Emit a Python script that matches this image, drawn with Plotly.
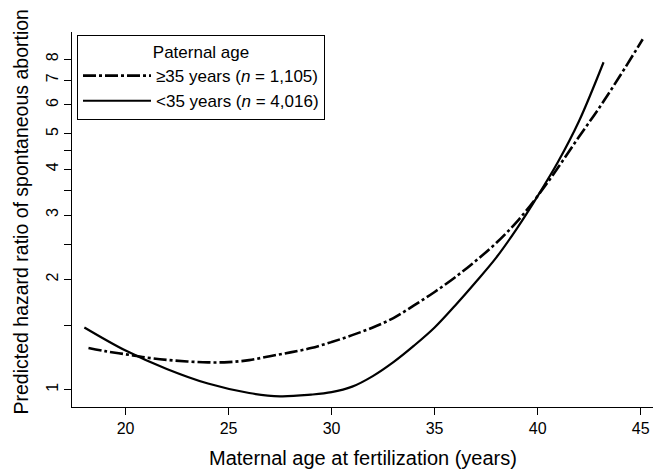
import plotly.graph_objects as go

# <35 years paternal age (solid)
age_young = [18, 20, 22, 24, 26, 27.5, 29, 30, 31, 32, 33, 34, 35, 36, 37, 38, 39, 40, 41, 42, 43.2]
hr_young = [1.48, 1.28, 1.14, 1.04, 0.98, 0.96, 0.97, 0.985, 1.02, 1.09, 1.19, 1.32, 1.48, 1.70,
            1.97, 2.30, 2.76, 3.38, 4.2, 5.4, 7.84]

# >=35 years paternal age (dash-dot)
age_old = [18.2, 19, 20, 21, 22, 23, 24, 25, 26, 27, 28, 29, 30, 31, 32, 33, 34, 35, 36, 37, 38,
           39, 40, 41, 42, 43, 44, 45.1]
hr_old = [1.30, 1.275, 1.25, 1.225, 1.207, 1.195, 1.188, 1.19, 1.205, 1.235, 1.265, 1.30, 1.35,
          1.41, 1.48, 1.57, 1.70, 1.85, 2.03, 2.25, 2.52, 2.88, 3.38, 4.05, 4.9, 5.9, 7.2, 9.06]

x_ticks = [20, 25, 30, 35, 40, 45]
y_tickvals = [1, 1.5, 2, 2.5, 3, 3.5, 4, 4.5, 5, 6, 7, 8]
y_ticktext = ["1", "", "2", "", "3", "", "4", "", "5", "6", "7", "8"]

x_title = "Maternal age at fertilization (years)"
y_title = "Predicted hazard ratio of spontaneous abortion"

FONT = "Liberation Sans, Arial, Helvetica, sans-serif"

fig = go.Figure()
fig.add_trace(go.Scatter(
    x=age_old, y=hr_old, mode="lines", line_shape="spline",
    name="≥35 years (<i>n</i> = 1,105)",
    line=dict(color="black", width=2.6, dash="13px,3px,3px,3px"),
))
fig.add_trace(go.Scatter(
    x=age_young, y=hr_young, mode="lines", line_shape="spline",
    name="<35 years (<i>n</i> = 4,016)",
    line=dict(color="black", width=2.2),
))

fig.update_layout(
    width=654, height=461,
    margin=dict(l=64, r=9, t=24, b=62, autoexpand=False),
    paper_bgcolor="white", plot_bgcolor="white",
    font=dict(family=FONT, color="black", size=15),
    showlegend=True,
    legend=dict(
        x=0.0086, y=0.992, xanchor="left", yanchor="top",
        bordercolor="black", borderwidth=1, bgcolor="white",
        font=dict(size=17, family=FONT),
        title=dict(text="Paternal age", side="top center", font=dict(size=17, family=FONT)),
        itemwidth=68, tracegroupgap=0,
    ),
    xaxis=dict(
        range=[17.4, 45.6], tickvals=x_ticks, ticks="outside", ticklen=7,
        tickcolor="black", showline=True, linecolor="black", linewidth=1,
        showgrid=False, zeroline=False, mirror=False, automargin=False,
        tickfont=dict(size=16),
    ),
    yaxis=dict(
        type="log", range=[-0.047, 0.977],
        tickvals=y_tickvals, ticktext=y_ticktext, tickangle=-90,
        ticks="outside", ticklen=7, tickcolor="black",
        showline=True, linecolor="black", linewidth=1,
        showgrid=False, zeroline=False, mirror=False, automargin=False,
        tickfont=dict(size=16),
    ),
    annotations=[
        dict(text=x_title, xref="paper", yref="paper", x=0.5, y=0,
             xanchor="center", yanchor="middle", yshift=-51, showarrow=False,
             font=dict(size=20, family=FONT)),
        dict(text=y_title, xref="paper", yref="paper", x=0, y=0.5,
             xanchor="center", yanchor="middle", xshift=-52, yshift=7,
             textangle=-90, showarrow=False, font=dict(size=19.5, family=FONT)),
    ],
)

fig.write_html("out.html")
